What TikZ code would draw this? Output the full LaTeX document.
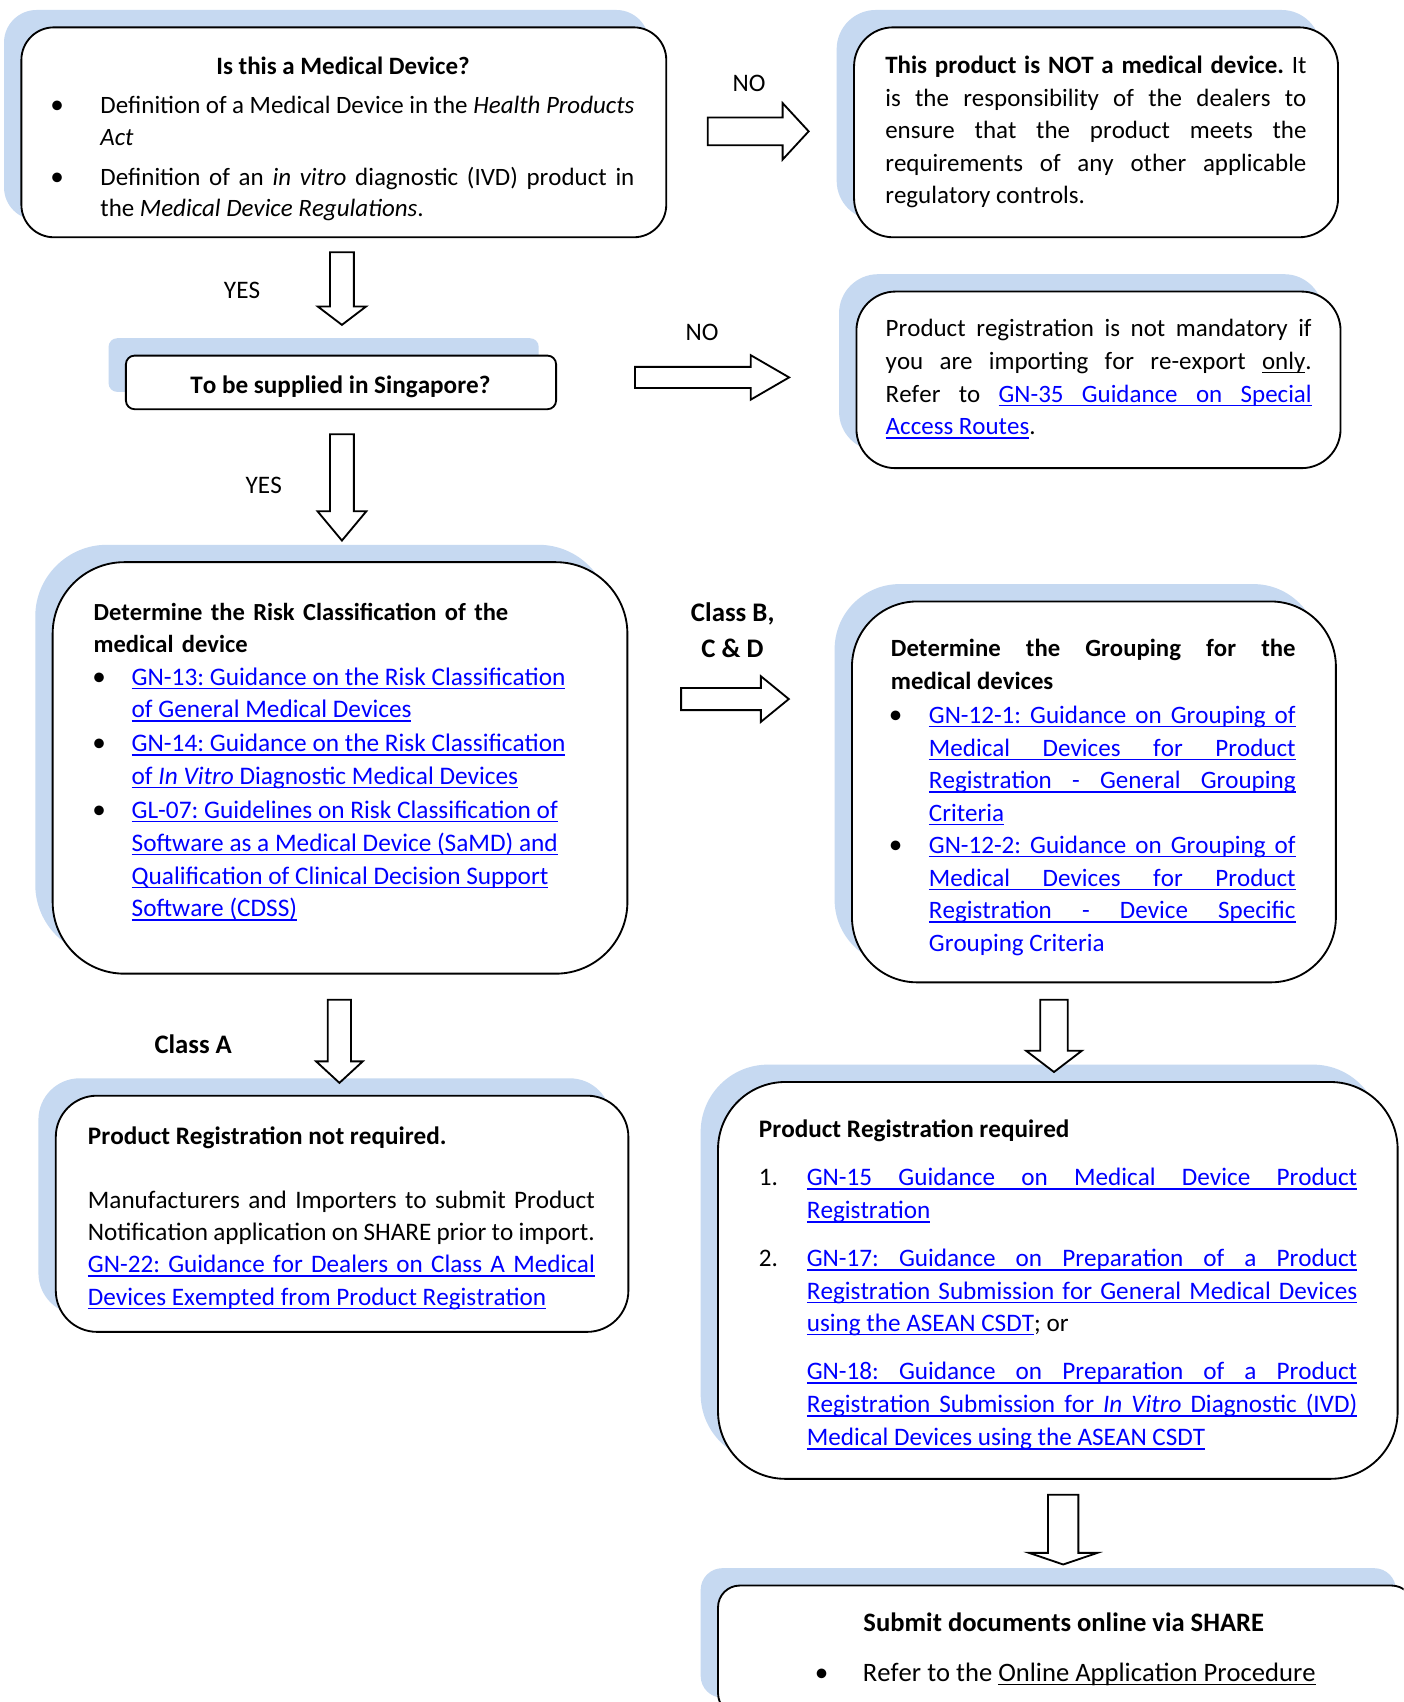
\documentclass[tikz,border=0pt]{standalone}
\usepackage{fontspec}
\setmainfont{Carlito}[Kerning=Off]
\usetikzlibrary{fit,shadows}
\definecolor{shadowblue}{RGB}{198,217,241}
\definecolor{linkblue}{RGB}{0,0,255}
% simple underlining that stretches with justified spaces
\def\ULstop{\ULstop}
\def\ULgobble#1{}
\def\ulspace{\leaders\hrule height -1.15pt depth 1.8pt\hskip\fontdimen2\font plus\fontdimen3\font minus\fontdimen4\font\relax}
\def\ulw#1{\setbox0\hbox{#1}\rlap{\vrule height -1.15pt depth 1.8pt width\wd0}\box0}
\def\UL#1{\ULfirst#1 \ULstop}
\def\ULfirst#1 {\ulw{#1}\futurelet\ULtok\ULcheck}
\def\ULcheck{\ifx\ULtok\ULstop\expandafter\ULgobble\else\ulspace\expandafter\ULfirst\fi}
\newcommand{\lnk}[1]{\textcolor{linkblue}{\UL{#1}}}
\newcommand{\fz}[2]{\fontsize{#1}{#2}\selectfont\frenchspacing\tolerance=10000\hyphenpenalty=10000\exhyphenpenalty=10000\relax}
\newcommand{\jst}{\leftskip0pt\rightskip0pt\parfillskip0pt plus 1fil\spaceskip0pt\xspaceskip0pt\relax}
\newcommand{\rarr}[6]{\draw[blockarrow] (#1,#4-#5) -- (#2,#4-#5) -- (#2,#4-#6) -- (#3,#4) -- (#2,#4+#6) -- (#2,#4+#5) -- (#1,#4+#5) -- cycle;}
\newcommand{\darr}[6]{\draw[blockarrow] (#1-#5,#2) -- (#1-#5,#3) -- (#1-#6,#3) -- (#1,#4) -- (#1+#6,#3) -- (#1+#5,#3) -- (#1+#5,#2) -- cycle;}
\begin{document}
\begin{tikzpicture}[x=0.5pt,y=-0.5pt,
 box/.style={draw=black, line width=0.85pt, fill=white, inner sep=0pt,
   drop shadow={shadow xshift=-8pt, shadow yshift=8pt, fill=shadowblue, opacity=1}},
 blockarrow/.style={draw=black, line width=0.85pt, fill=white, line join=miter},
 txt/.style={inner sep=0pt, outer sep=0pt, anchor=base west, font=\fz{11.6pt}{15pt}},
 jtxt/.style={txt, align=justify, text width=#1},
 ctr/.style={inner sep=0pt, outer sep=0pt, anchor=base, font=\fz{11.6pt}{15pt}},
 bul/.style={inner sep=0pt, outer sep=0pt, anchor=base, font=\fz{12.5pt}{15pt}},
]
\path[use as bounding box] (0,0) rectangle (1293,1568);
\clip (0,0) rectangle (1293,1568);
\fill[white] (0,0) rectangle (1293,1568);

% boxes
\node[box, rounded corners=15pt, fit={(19.7,25.2)(613.8,218.6)}] (b1) {};
\node[box, rounded corners=18pt, fit={(786.8,25.2)(1232.7,218.6)}] (b2) {};
\node[box, rounded corners=4pt, fit={(116,327.6)(512.3,377)}] (b3) {};
\node[box, rounded corners=18pt, fit={(789,268.6)(1235,431.3)}] (b4) {};
\node[box, rounded corners=33pt, fit={(48.5,517.9)(578,897)}] (b5) {};
\node[box, rounded corners=30pt, fit={(784.9,554.1)(1230.7,905)}] (b6) {};
\node[box, rounded corners=19pt, fit={(51.4,1009.4)(578.9,1227)}] (b7) {};
\node[box, rounded corners=31pt, fit={(661.5,996.8)(1287.6,1362.4)}] (b8) {};
\node[box, rounded corners=10pt, fit={(661.5,1460.7)(1302,1580)}] (b9) {};

% block arrows
\rarr{652}{721}{745}{121}{12.75}{26}
\darr{315}{232.4}{282.4}{299.3}{11}{22.2}
\rarr{585}{691.6}{727}{347.7}{9.75}{20.5}
\darr{315}{400}{471}{498}{11}{22.5}
\rarr{627.5}{701}{726.7}{644}{10.2}{21}
\darr{312.7}{921}{977.8}{997.6}{10.7}{21.5}
\darr{971}{921}{968}{987.6}{12.6}{25.7}
\darr{979.5}{1377}{1430.6}{1441.3}{14}{31.5}

% labels
\node[ctr] (lno1) at (690,84.7) {NO};
\node[ctr] (lyes1) at (223,275) {YES};
\node[ctr] (lno2) at (646.7,313.5) {NO};
\node[ctr] (lyes2) at (243,455) {YES};
\node[ctr, font=\fz{12.35pt}{15pt}] (lbcd1) at (675,572.2) {\textbf{Class B,}};
\node[ctr, font=\fz{12.35pt}{15pt}] (lbcd2) at (674.7,606) {\textbf{C \& D}};
\node[ctr, font=\fz{12.3pt}{15pt}] (lca) at (178,970.4) {\textbf{Class A}};

% box 1
\node[ctr, font=\fz{11.5pt}{15pt}] (t1h) at (316,68.4) {\textbf{Is this a Medical Device?}};
\node[bul] (t1b1) at (52.6,104.7) {•};
\node[jtxt=246pt] (t1i1) at (92.5,104.7) {\fz{11.5pt}{14.6pt}\jst Definition of a Medical Device in the \textit{Health Products}\linebreak \textit{Act}\par};
\node[bul] (t1b2) at (52.6,170.7) {•};
\node[jtxt=246pt] (t1i2) at (92.5,170.7) {\fz{11.5pt}{14.6pt}\jst Definition of an \textit{in vitro} diagnostic (IVD) product in\linebreak the \textit{Medical Device Regulations}.\par};

% box 2
\node[jtxt=194pt] (t2) at (815.6,67.9) {\fz{11.5pt}{14.95pt}\jst\textbf{This product is NOT a medical device.} It\linebreak is the responsibility of the dealers to\linebreak ensure that the product meets the\linebreak requirements of any other applicable\linebreak regulatory controls.\par};

% box 3
\node[ctr] (t3) at (313.6,362.6) {\textbf{To be supplied in Singapore?}};

% box 4
\node[jtxt=196.2pt] (t4) at (816,310.4) {\fz{11.5pt}{15pt}\jst Product registration is not mandatory if\linebreak you are importing for re-export \UL{only}.\linebreak Refer to \lnk{GN-35 Guidance on Special}\linebreak \lnk{Access Routes}.\par};

% box 5
\node[txt, text width=245pt] (t5h) at (86.3,571.4) {\fz{11.3pt}{15.15pt}\raggedright\textbf{Determine the Risk Classification of the}\\\textbf{medical device}};
\node[bul] (t5b1) at (91.3,631.2) {•};
\node[txt, text width=225pt] (t5i1) at (121.3,631.2) {\fz{11.65pt}{15.15pt}\raggedright\lnk{GN-13: Guidance on the Risk Classification}\\\lnk{of General Medical Devices}};
\node[bul] (t5b2) at (91.3,692.6) {•};
\node[txt, text width=225pt] (t5i2) at (121.3,692.6) {\fz{11.65pt}{15.15pt}\raggedright\lnk{GN-14: Guidance on the Risk Classification}\\\lnk{of \textit{In} \textit{Vitro} Diagnostic Medical Devices}};
\node[bul] (t5b3) at (91.3,754) {•};
\node[txt, text width=225pt] (t5i3) at (121.3,754) {\fz{11.65pt}{15.15pt}\raggedright\lnk{GL-07: Guidelines on Risk Classification of}\\\lnk{Software as a Medical Device (SaMD) and}\\\lnk{Qualification of Clinical Decision Support}\\\lnk{Software (CDSS)}};

% box 6
\node[jtxt=186.4pt] (t6h) at (820.8,605.1) {\fz{11.4pt}{15pt}\jst\textbf{Determine the Grouping for the}\linebreak\textbf{medical devices}\par};
\node[bul] (t6b1) at (825,666.5) {•};
\node[jtxt=168.9pt] (t6i1) at (855.8,666.5) {\fz{11.55pt}{15.05pt}\jst\lnk{GN-12-1: Guidance on Grouping of}\linebreak\lnk{Medical Devices for Product}\linebreak\lnk{Registration - General Grouping}\linebreak\lnk{Criteria}\par};
\node[bul] (t6b2) at (825,786.2) {•};
\node[jtxt=168.9pt] (t6i2) at (855.8,786.2) {\fz{11.55pt}{15.05pt}\jst\lnk{GN-12-2: Guidance on Grouping of}\linebreak\lnk{Medical Devices for Product}\linebreak\lnk{Registration - Device Specific}\linebreak\textcolor{linkblue}{Grouping Criteria}\par};

% box 7
\node[txt] (t7h) at (81,1054.3) {\textbf{Product Registration not required.}};
\node[jtxt=233.5pt] (t7) at (81,1113.2) {\fz{11.6pt}{14.85pt}\jst Manufacturers and Importers to submit Product\linebreak Notification application on SHARE prior to import.\linebreak\lnk{GN-22: Guidance for Dealers on Class A Medical}\linebreak\lnk{Devices Exempted from Product Registration}\par};

% box 8
\node[txt] (t8h) at (699.2,1048.1) {\textbf{Product Registration required}};
\node[txt] (t8n1) at (699.2,1092.3) {1.};
\node[jtxt=253.5pt] (t8i1) at (743.3,1092.3) {\fz{11.6pt}{15.35pt}\jst\lnk{GN-15 Guidance on Medical Device Product}\linebreak\lnk{Registration}\par};
\node[txt] (t8n2) at (699.2,1166.9) {2.};
\node[jtxt=253.5pt] (t8i2) at (743.3,1166.9) {\fz{11.6pt}{14.95pt}\jst\lnk{GN-17: Guidance on Preparation of a Product}\linebreak\lnk{Registration Submission for General Medical Devices}\linebreak\lnk{using the ASEAN CSDT}; or\par};
\node[jtxt=253.5pt] (t8i3) at (743.3,1271.3) {\fz{11.6pt}{15.2pt}\jst\lnk{GN-18: Guidance on Preparation of a Product}\linebreak\lnk{Registration Submission for \textit{In} \textit{Vitro} Diagnostic (IVD)}\linebreak\lnk{Medical Devices using the ASEAN CSDT}\par};

% box 9
\node[ctr, font=\fz{12.25pt}{15pt}] (t9h) at (980,1503) {\textbf{Submit documents online via SHARE}};
\node[bul] (t9b) at (757,1549) {•};
\node[txt, font=\fz{12.25pt}{15pt}] (t9) at (795,1549) {Refer to the \UL{Online Application Procedure}};
\end{tikzpicture}
\end{document}
